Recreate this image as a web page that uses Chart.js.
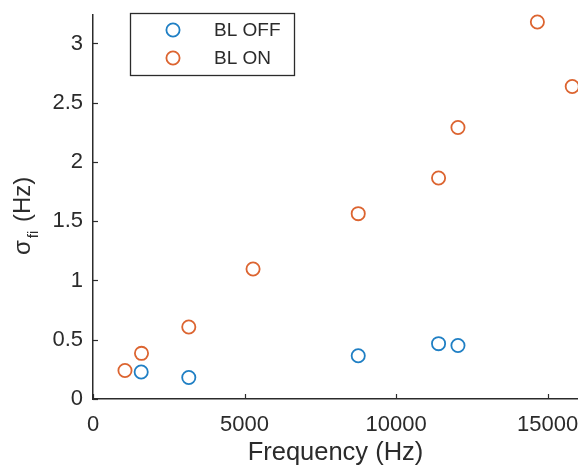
<!DOCTYPE html>
<html><head><meta charset="utf-8">
<script src="https://cdn.jsdelivr.net/npm/chart.js@4/dist/chart.umd.min.js"></script>
<style>html,body{margin:0;padding:0;background:#fff;overflow:hidden}</style>
</head><body>
<canvas id="c" width="578" height="468"></canvas>
<script>
// ---- data ----
const seriesLabels = ['BL OFF', 'BL ON'];
const offFreq  = [1590, 3160, 8750, 11400, 12040];
const offSigma = [0.228, 0.182, 0.365, 0.467, 0.452];
const onFreq   = [1055, 1600, 3160, 5280, 8750, 11400, 12040, 14660, 15810];
const onSigma  = [0.241, 0.385, 0.607, 1.097, 1.564, 1.865, 2.291, 3.181, 2.637];
const xTicks = [0, 5000, 10000, 15000];
const yTicks = [0, 0.5, 1, 1.5, 2, 2.5, 3];
const xTitle = 'Frequency (Hz)';
const yTitleMain = 'σ', yTitleSub = 'fi', yTitleRest = ' (Hz)';

const BLUE = '#1f7fc4', ORANGE = '#dc6430', INK = '#2b2b2b';
const FONT = '"Liberation Sans", Arial, sans-serif';

function pts(xs, ys) { return xs.map((x, i) => ({x: x, y: ys[i]})); }

const decor = {
  id: 'decor',
  afterDraw(chart) {
    const ctx = chart.ctx, xs = chart.scales.x, ys = chart.scales.y, a = chart.chartArea;
    ctx.save();
    // inward ticks
    ctx.strokeStyle = INK; ctx.lineWidth = 1.2;
    xTicks.forEach(v => { const p = Math.round(xs.getPixelForValue(v)) + 0.5;
      ctx.beginPath(); ctx.moveTo(p, a.bottom); ctx.lineTo(p, a.bottom - 5); ctx.stroke(); });
    yTicks.forEach(v => { const p = Math.round(ys.getPixelForValue(v)) + 0.5;
      ctx.beginPath(); ctx.moveTo(a.left, p); ctx.lineTo(a.left + 5, p); ctx.stroke(); });
    // y title with subscript
    ctx.save();
    ctx.translate(30, 255);
    ctx.rotate(-Math.PI / 2);
    ctx.fillStyle = INK; ctx.textBaseline = 'alphabetic'; ctx.textAlign = 'left';
    ctx.font = '24px ' + FONT;
    ctx.fillText(yTitleMain, 0, 0);
    let w = ctx.measureText(yTitleMain).width + 2;
    ctx.font = '15px ' + FONT;
    ctx.fillText(yTitleSub, w, 8);
    w += ctx.measureText(yTitleSub).width + 2;
    ctx.font = '24px ' + FONT;
    ctx.fillText(yTitleRest, w, 0);
    ctx.restore();
    // legend
    ctx.fillStyle = '#fff';
    ctx.fillRect(130.5, 13.5, 164, 62);
    ctx.strokeStyle = INK; ctx.lineWidth = 1.3;
    ctx.strokeRect(130.5, 13.5, 164, 62);
    const cols = [BLUE, ORANGE], ysL = [30, 58];
    seriesLabels.forEach((lab, i) => {
      ctx.beginPath(); ctx.arc(173, ysL[i], 6.6, 0, Math.PI * 2);
      ctx.strokeStyle = cols[i]; ctx.lineWidth = 1.8; ctx.stroke();
      ctx.fillStyle = INK; ctx.font = '19px ' + FONT; ctx.textBaseline = 'middle';
      ctx.fillText(lab, 214, ysL[i] + 1);
    });
    ctx.restore();
  }
};

new Chart(document.getElementById('c'), {
  type: 'scatter',
  data: { datasets: [
    { label: seriesLabels[0], data: pts(offFreq, offSigma), borderColor: BLUE, backgroundColor: 'rgba(0,0,0,0)',
      pointRadius: 6.6, pointBorderWidth: 1.8, pointHoverRadius: 6.6 },
    { label: seriesLabels[1], data: pts(onFreq, onSigma), borderColor: ORANGE, backgroundColor: 'rgba(0,0,0,0)',
      pointRadius: 6.6, pointBorderWidth: 1.8, pointHoverRadius: 6.6 }
  ]},
  options: {
    responsive: false, animation: false, devicePixelRatio: 1,
    layout: { autoPadding: false, padding: { top: 15, right: 0, left: 0, bottom: 0 } },
    plugins: { legend: { display: false }, tooltip: { enabled: false } },
    elements: { point: { pointStyle: 'circle' } },
    clip: false,
    scales: {
      x: {
        type: 'linear', min: 0, max: 16000,
        grid: { display: false, drawTicks: false },
        border: { display: true, color: INK, width: 1.5 },
        afterBuildTicks: s => { s.ticks = xTicks.map(v => ({value: v})); },
        afterFit: s => { s.height = 69; s.paddingLeft = 0; s.paddingRight = 0; },
        ticks: { color: INK, font: { family: FONT, size: 22 }, padding: 13, maxRotation: 0, autoSkip: false,
                 callback: v => String(v) },
        title: { display: true, text: xTitle, color: INK, font: { family: FONT, size: 25.5 }, padding: { top: 0, bottom: 0 } }
      },
      y: {
        type: 'linear', min: 0, max: 3.24,
        grid: { display: false, drawTicks: false },
        border: { display: true, color: INK, width: 1.5 },
        afterBuildTicks: s => { s.ticks = yTicks.map(v => ({value: v})); },
        afterFit: s => { s.width = 93; s.paddingTop = 0; s.paddingBottom = 0; },
        ticks: { color: INK, font: { family: FONT, size: 22 }, padding: 10, autoSkip: false,
                 callback: v => String(v) }
      }
    }
  },
  plugins: [decor]
});
</script>
</body></html>
